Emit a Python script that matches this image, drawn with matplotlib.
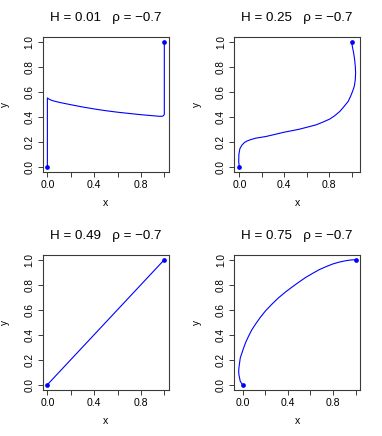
#!/usr/bin/env python3
"""Four paths from (0,0) to (1,1) for several H, rho = -0.7."""

import matplotlib

matplotlib.use('Agg')
import matplotlib.pyplot as plt

plt.rcParams['font.family'] = ['Liberation Sans', 'DejaVu Sans']

titles = ['H = 0.01   \u03c1 = \u22120.7', 'H = 0.25   \u03c1 = \u22120.7',
          'H = 0.49   \u03c1 = \u22120.7', 'H = 0.75   \u03c1 = \u22120.7']

# curves
x_h01 = [0, 0, 0.02, 0.05, 0.1, 0.2, 0.3, 0.4, 0.5, 0.6, 0.7, 0.8, 0.9, 0.96, 0.985, 0.995, 1.0, 1.0]
y_h01 = [0, 0.55, 0.537, 0.527, 0.515, 0.496, 0.478, 0.462, 0.448, 0.436, 0.426, 0.416, 0.408,
         0.403, 0.404, 0.41, 0.42, 1.0]

x_h25 = [0, -0.006, -0.004, 0.005, 0.024, 0.045, 0.069, 0.1, 0.144, 0.234, 0.4, 0.535, 0.685,
         0.745, 0.805, 0.85, 0.895, 0.934, 0.97, 0.991, 1.009, 1.024, 1.033, 1.036, 1.033, 1.027,
         1.018, 1.009, 1.0]
y_h25 = [0, 0.04, 0.1, 0.145, 0.174, 0.193, 0.206, 0.216, 0.228, 0.241, 0.276, 0.30, 0.335,
         0.357, 0.381, 0.408, 0.442, 0.483, 0.523, 0.563, 0.603, 0.643, 0.697, 0.751, 0.804, 0.858,
         0.912, 0.952, 1.0]

x_h49 = [0, 1]
y_h49 = [0, 1]

x_h75 = [0, -0.01, -0.021, -0.033, -0.035, -0.033, -0.021, 0.009, 0.03, 0.053, 0.08, 0.113, 0.155,
         0.2, 0.26, 0.32, 0.38, 0.44, 0.5, 0.558, 0.62, 0.677, 0.74, 0.795, 0.86, 0.914, 0.96, 1.0]
y_h75 = [0, 0.012, 0.027, 0.08, 0.11, 0.134, 0.214, 0.295, 0.345, 0.389, 0.437, 0.483, 0.537,
         0.588, 0.645, 0.697, 0.742, 0.783, 0.822, 0.858, 0.891, 0.92, 0.945, 0.965, 0.982, 0.992,
         0.998, 1.0]

end_x = [0, 1]
end_y = [0, 1]

ticks = [0, 0.2, 0.4, 0.6, 0.8, 1.0]
xtick_labels = ['0.0', '', '0.4', '', '0.8', '']
ytick_labels = ['0.0', '0.2', '0.4', '0.6', '0.8', '1.0']

curves = [(x_h01, y_h01), (x_h25, y_h25), (x_h49, y_h49), (x_h75, y_h75)]

W, H = 382, 436
fig = plt.figure(figsize=(W / 100, H / 100), dpi=100)
lefts = [42.7, 234.0]
tops = [36.7, 254.7]
aw, ah = 126.3, 135.0

for i, ((cx, cy), title) in enumerate(zip(curves, titles)):
    col, row = i % 2, i // 2
    ax = fig.add_axes([lefts[col] / W, 1 - (tops[row] + ah) / H, aw / W, ah / H])
    ax.plot(cx, cy, color='blue', lw=0.8)
    ax.plot(end_x, end_y, 'o', color='blue', ms=3.4, mew=0)
    ax.margins(0.04)
    ax.set_xticks(ticks)
    ax.set_xticklabels(xtick_labels)
    ax.set_yticks(ticks)
    ax.set_yticklabels(ytick_labels, rotation=90, va='center')
    ax.tick_params(length=3.6, width=0.7, color='#3a3a3a', pad=2.2)
    ax.tick_params(axis='x', labelsize=7.6)
    ax.tick_params(axis='y', labelsize=7.2, pad=2.3)
    for s in ax.spines.values():
        s.set_color('#3a3a3a')
        s.set_linewidth(0.8)
    ax.set_title(title, fontsize=9.6, pad=11.5)
    ax.set_xlabel('x', fontsize=7.6, va='center')
    ax.xaxis.set_label_coords(0.5, -0.232)
    ax.set_ylabel('y', fontsize=7.2, va='center')
    ax.yaxis.set_label_coords(-0.295, 0.5)

fig.savefig('out.png', dpi=100)
